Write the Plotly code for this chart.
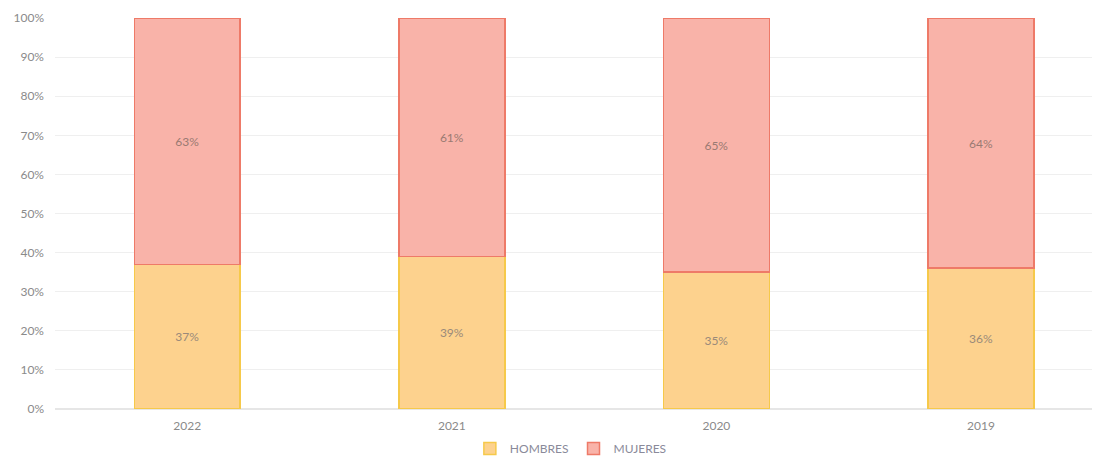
import plotly.graph_objects as go

years = ["2022", "2021", "2020", "2019"]
hombres = [37, 39, 35, 36]
mujeres = [63, 61, 65, 64]
tick_vals = [0, 10, 20, 30, 40, 50, 60, 70, 80, 90, 100]
tick_text = ["0%", "10%", "20%", "30%", "40%", "50%", "60%", "70%", "80%", "90%", "100%"]

fig = go.Figure()
fig.add_trace(go.Bar(
    x=years, y=hombres, name="HOMBRES",
    marker=dict(color="#FDD28E", line=dict(color="#F6C94A", width=1.5)),
    text=[f"{v}%" for v in hombres], textposition="inside", insidetextanchor="middle",
    textfont=dict(color="#9a8a7a", size=12), width=0.4,
))
fig.add_trace(go.Bar(
    x=years, y=mujeres, name="MUJERES",
    marker=dict(color="#F9B3A9", line=dict(color="#EE7A68", width=1.5)),
    text=[f"{v}%" for v in mujeres], textposition="inside", insidetextanchor="middle",
    textfont=dict(color="#9a7a72", size=12), width=0.4,
))

fig.update_layout(
    barmode="stack",
    width=1092, height=448,
    margin=dict(l=47, r=0, t=10, b=47, autoexpand=False),
    plot_bgcolor="white", paper_bgcolor="white",
    font=dict(family="Lato, Open Sans, sans-serif", size=12, color="#8a8a8a"),
    showlegend=True,
    legend=dict(orientation="h", x=0.397, xanchor="left", y=-0.064, yanchor="top",
                font=dict(size=12, color="#8a8a9a"), itemwidth=30, traceorder="normal"),
    xaxis=dict(range=[-0.5, 3.45], showgrid=False, showline=False, ticks="",
               automargin=False, ticklabelstandoff=8,
               tickfont=dict(size=12, color="#8a8a8a")),
    yaxis=dict(range=[0, 100], tickvals=tick_vals, ticktext=tick_text,
               showgrid=True, gridcolor="#efefef", gridwidth=1, zeroline=True,
               zerolinecolor="#e6e6e6", ticks="", automargin=False, ticklabelstandoff=10,
               tickfont=dict(size=12, color="#8a8a8a")),
)

fig.write_html("out.html")
